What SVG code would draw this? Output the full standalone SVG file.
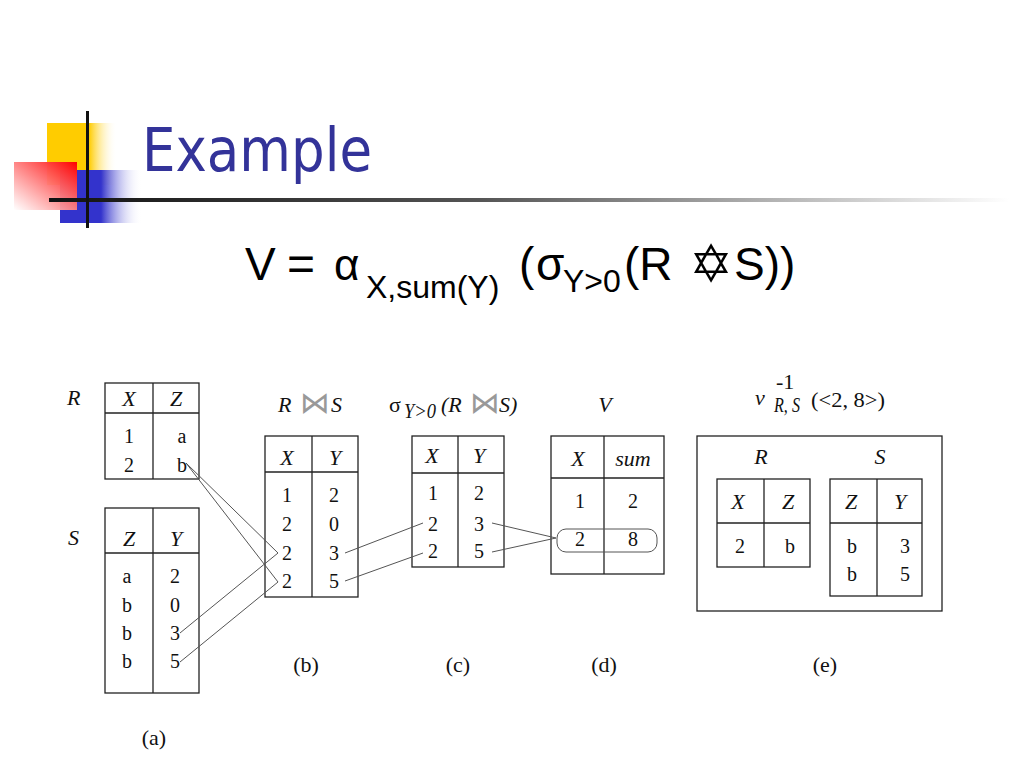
<svg xmlns="http://www.w3.org/2000/svg" width="1024" height="768" viewBox="0 0 1024 768">
<defs>
<linearGradient id="gYellow" x1="0" y1="0" x2="1" y2="0">
<stop offset="0" stop-color="#FFCC00"/><stop offset="0.6" stop-color="#FFCC00"/><stop offset="1" stop-color="#FFFFFF" stop-opacity="0"/>
</linearGradient>
<linearGradient id="gBlue" x1="0" y1="0" x2="1" y2="0">
<stop offset="0" stop-color="#3333CC"/><stop offset="0.5" stop-color="#3333CC"/><stop offset="1" stop-color="#FFFFFF" stop-opacity="0"/>
</linearGradient>
<linearGradient id="gRed" x1="1" y1="0" x2="0" y2="1">
<stop offset="0" stop-color="#FF0000"/><stop offset="1" stop-color="#FFFFFF" stop-opacity="0.9"/>
</linearGradient>
<linearGradient id="gLine" x1="0" y1="0" x2="1" y2="0">
<stop offset="0" stop-color="#111111"/><stop offset="0.45" stop-color="#555555"/><stop offset="1" stop-color="#FFFFFF"/>
</linearGradient>
</defs>
<style>
.tb{fill:none;stroke:#222;stroke-width:1.3}
.ln{stroke:#222;stroke-width:1.3}
.h{font-family:"Liberation Serif",serif;font-style:italic;font-size:22px;fill:#111;text-anchor:middle}
.d{font-family:"Liberation Serif",serif;font-size:20px;fill:#111;text-anchor:middle}
.cap{font-family:"Liberation Serif",serif;font-size:22px;fill:#111}
.it{font-style:italic}
.bt{font-family:"DejaVu Sans",sans-serif;font-size:30px;fill:#999;text-anchor:middle}
.f{font-family:"Liberation Sans",Arial,sans-serif;fill:#000}
.conn{stroke:#555;stroke-width:1;fill:none}
</style>
<rect width="1024" height="768" fill="#FFFFFF"/>

<g id="decoration">
<rect x="47" y="123" width="70" height="62" fill="url(#gYellow)"/>
<rect x="60" y="170" width="82" height="53" fill="url(#gBlue)"/>
<rect x="14" y="162" width="63" height="48" fill="url(#gRed)"/>
<rect x="49" y="198" width="960" height="4" fill="url(#gLine)"/>
<rect x="86" y="111" width="3" height="117" fill="#111"/>
</g>

<g id="title">
<text x="142" y="171" font-family="Tahoma,'DejaVu Sans','Liberation Sans',sans-serif" font-size="60" fill="#333399" textLength="230" lengthAdjust="spacingAndGlyphs">Example</text>
</g>

<g id="formula">
<text class="f" x="245" y="280" font-size="46">V</text>
<text class="f" x="287" y="280" font-size="48">=</text>
<text class="f" x="334" y="280" font-size="44">α</text>
<text class="f" x="366" y="298" font-size="32">X,sum(Y)</text>
<text class="f" x="519" y="280" font-size="46">(</text>
<text class="f" x="536" y="280" font-size="46">σ</text>
<text class="f" x="563" y="292" font-size="32">Y&gt;0</text>
<text class="f" x="624" y="280" font-size="46">(R</text>
<text x="711" y="282" font-family="'DejaVu Sans',sans-serif" font-size="52" text-anchor="middle" fill="#000">✡</text>
<text class="f" x="734" y="280" font-size="46">S))</text>
</g>

<g id="table-a-R">
<text class="cap it" x="67" y="405">R</text>
<rect class="tb" x="105" y="383" width="94" height="96"/>
<line class="ln" x1="105" y1="413" x2="199" y2="413"/>
<line class="ln" x1="153" y1="383" x2="153" y2="479"/>
<text class="h" x="129" y="406">X</text><text class="h" x="176" y="406">Z</text>
<text class="d" x="129" y="443">1</text><text class="d" x="182" y="443">a</text>
<text class="d" x="129" y="472">2</text><text class="d" x="182" y="472">b</text>
</g>

<g id="table-a-S">
<text class="cap it" x="68" y="545">S</text>
<rect class="tb" x="105" y="508" width="94" height="185"/>
<line class="ln" x1="105" y1="553" x2="199" y2="553"/>
<line class="ln" x1="153" y1="508" x2="153" y2="693"/>
<text class="h" x="129" y="546">Z</text><text class="h" x="176" y="546">Y</text>
<text class="d" x="127" y="583">a</text><text class="d" x="175" y="583">2</text>
<text class="d" x="127" y="612">b</text><text class="d" x="175" y="612">0</text>
<text class="d" x="127" y="640">b</text><text class="d" x="175" y="640">3</text>
<text class="d" x="127" y="668">b</text><text class="d" x="175" y="668">5</text>
</g>

<g id="table-b">
<text class="cap it" x="278" y="412">R</text>
<text class="bt" x="315" y="413">⋈</text>
<text class="cap it" x="331" y="412">S</text>
<rect class="tb" x="265" y="436" width="93" height="161"/>
<line class="ln" x1="265" y1="472" x2="358" y2="472"/>
<line class="ln" x1="312" y1="436" x2="312" y2="597"/>
<text class="h" x="287" y="465">X</text><text class="h" x="335" y="465">Y</text>
<text class="d" x="287" y="502">1</text><text class="d" x="334" y="502">2</text>
<text class="d" x="287" y="531">2</text><text class="d" x="334" y="531">0</text>
<text class="d" x="287" y="560">2</text><text class="d" x="334" y="560">3</text>
<text class="d" x="287" y="588">2</text><text class="d" x="334" y="588">5</text>
</g>

<g id="table-c">
<text class="cap" x="389" y="412" font-size="26">σ</text>
<text class="cap it" x="404" y="418" font-size="14" textLength="32" lengthAdjust="spacingAndGlyphs">Y&gt;0</text>
<text class="cap it" x="441" y="412">(R</text>
<text class="bt" x="485" y="413">⋈</text>
<text class="cap it" x="499" y="412">S)</text>
<rect class="tb" x="412" y="436" width="92" height="131"/>
<line class="ln" x1="412" y1="473" x2="504" y2="473"/>
<line class="ln" x1="458" y1="436" x2="458" y2="567"/>
<text class="h" x="432" y="463">X</text><text class="h" x="479" y="463">Y</text>
<text class="d" x="433" y="500">1</text><text class="d" x="479" y="500">2</text>
<text class="d" x="433" y="531">2</text><text class="d" x="479" y="531">3</text>
<text class="d" x="433" y="558">2</text><text class="d" x="479" y="558">5</text>
</g>

<g id="table-d">
<text class="h" x="605" y="412">V</text>
<rect class="tb" x="551" y="436" width="113" height="138"/>
<line class="ln" x1="551" y1="478" x2="664" y2="478"/>
<line class="ln" x1="604" y1="436" x2="604" y2="574"/>
<text class="h" x="578" y="466">X</text><text class="h" x="633" y="466">sum</text>
<text class="d" x="580" y="508">1</text><text class="d" x="633" y="508">2</text>
<text class="d" x="580" y="546">2</text><text class="d" x="633" y="546">8</text>
<rect x="557" y="529" width="100" height="23" rx="9" fill="none" stroke="#555" stroke-width="1"/>
</g>

<g id="table-e">
<text class="cap it" x="755" y="405" font-size="27">v</text>
<text class="cap" x="776" y="389" font-size="11">-1</text>
<text class="cap it" x="774" y="412" font-size="13" textLength="26" lengthAdjust="spacingAndGlyphs">R, S</text>
<text class="cap" x="811" y="407" font-size="20" textLength="74" lengthAdjust="spacingAndGlyphs">(&lt;2, 8&gt;)</text>
<rect class="tb" x="697" y="436" width="245" height="175"/>
<text class="h" x="761" y="464" font-size="24">R</text>
<text class="h" x="880" y="464" font-size="24">S</text>
<rect class="tb" x="717" y="479" width="93" height="88"/>
<line class="ln" x1="717" y1="523" x2="810" y2="523"/>
<line class="ln" x1="764" y1="479" x2="764" y2="567"/>
<text class="h" x="738" y="509">X</text><text class="h" x="788" y="509">Z</text>
<text class="d" x="740" y="553">2</text><text class="d" x="790" y="553">b</text>
<rect class="tb" x="830" y="479" width="92" height="117"/>
<line class="ln" x1="830" y1="523" x2="922" y2="523"/>
<line class="ln" x1="877" y1="479" x2="877" y2="596"/>
<text class="h" x="851" y="509">Z</text><text class="h" x="900" y="509">Y</text>
<text class="d" x="852" y="553">b</text><text class="d" x="905" y="553">3</text>
<text class="d" x="852" y="581">b</text><text class="d" x="905" y="581">5</text>
</g>

<g id="connectors">
<line class="conn" x1="186" y1="463" x2="278" y2="553"/>
<line class="conn" x1="186" y1="463" x2="278" y2="582"/>
<line class="conn" x1="180" y1="633" x2="278" y2="553"/>
<line class="conn" x1="180" y1="662" x2="278" y2="582"/>
<line class="conn" x1="345" y1="553" x2="423" y2="523"/>
<line class="conn" x1="345" y1="581" x2="423" y2="553"/>
<line class="conn" x1="492" y1="523" x2="556" y2="538"/>
<line class="conn" x1="492" y1="552" x2="556" y2="538"/>
</g>

<g id="captions">
<text class="cap" x="306" y="672" text-anchor="middle">(b)</text>
<text class="cap" x="458" y="672" text-anchor="middle">(c)</text>
<text class="cap" x="604" y="672" text-anchor="middle">(d)</text>
<text class="cap" x="825" y="672" text-anchor="middle">(e)</text>
<text class="cap" x="154" y="745" text-anchor="middle">(a)</text>
</g>
</svg>
